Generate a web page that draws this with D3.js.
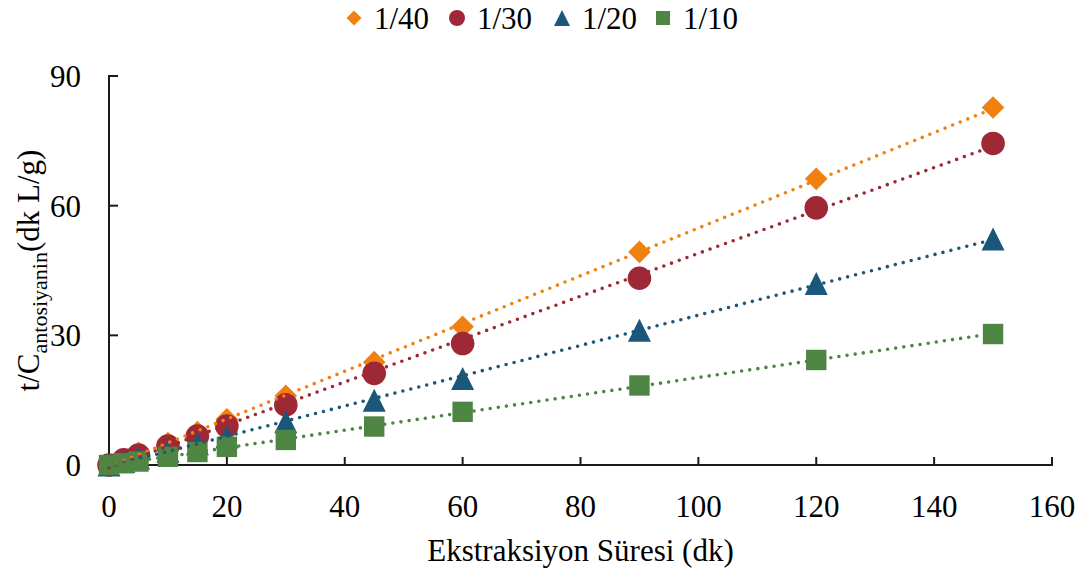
<!DOCTYPE html>
<html lang="en">
<head>
  <meta charset="UTF-8">
  <title>t/C antosiyanin</title>
  <script src="https://cdn.jsdelivr.net/npm/d3@7"></script>
  <style>
    body { margin: 0; background: #fff; }
    text { font-family: "Liberation Serif", "Times New Roman", serif; fill: #000; }
  </style>
</head>
<body>
  <svg id="chart"></svg>
  <script>
    const times = [0, 2.5, 5, 10, 15, 20, 30, 45, 60, 90, 120, 150];
    const ratio40 = [0, 1.4, 2.8, 5.1, 7.6, 10.6, 16.0, 23.8, 32.0, 49.3, 66.2, 82.7];
    const ratio30 = [0, 1.2, 2.3, 4.4, 6.7, 9.0, 13.9, 21.2, 28.1, 43.2, 59.5, 74.4];
    const ratio20 = [0, 0.8, 1.6, 3.2, 4.9, 6.5, 10.0, 15.0, 20.0, 31.2, 42.0, 52.3];
    const ratio10 = [0, 0.4, 0.8, 1.9, 3.0, 4.2, 5.8, 8.9, 12.3, 18.4, 24.3, 30.3];
    const seriesNames = ["1/40", "1/30", "1/20", "1/10"];
    const xTicks = [0, 20, 40, 60, 80, 100, 120, 140, 160];
    const yTicks = [0, 30, 60, 90];

    const width = 1083, height = 572;
    const margin = { left: 109, right: 31, top: 76, bottom: 107 };

    const series = [
      { name: seriesNames[0], values: ratio40, color: "#f08110", shape: "diamond" },
      { name: seriesNames[1], values: ratio30, color: "#9f2836", shape: "circle" },
      { name: seriesNames[2], values: ratio20, color: "#1b577b", shape: "triangle" },
      { name: seriesNames[3], values: ratio10, color: "#4e8542", shape: "square" }
    ];

    const svg = d3.select("#chart").attr("width", width).attr("height", height);

    const x = d3.scaleLinear().domain([0, 160]).range([margin.left, width - margin.right]);
    const y = d3.scaleLinear().domain([0, 90]).range([height - margin.bottom, margin.top]);

    // marker path centred on 0,0
    function shapePath(shape, s) {
      if (shape === "diamond") return `M0,${-s}L${s},0L0,${s}L${-s},0Z`;
      if (shape === "circle") return `M${s},0A${s},${s} 0 1,1 ${-s},0A${s},${s} 0 1,1 ${s},0Z`;
      if (shape === "triangle") return `M0,${-s}L${s},${s}L${-s},${s}Z`;
      return `M${-s},${-s}H${s}V${s}H${-s}Z`;
    }
    const markerSize = { diamond: 11.3, circle: 11.8, triangle: 11.5, square: 10.2 };
    const legendSize = { diamond: 7.5, circle: 8, triangle: 8, square: 7 };

    // axes
    const axisColor = "#1a1a1a";
    svg.append("line")
      .attr("x1", x(0)).attr("x2", x(0))
      .attr("y1", y(90) - 1).attr("y2", y(0) + 1)
      .attr("stroke", axisColor).attr("stroke-width", 2);
    svg.append("line")
      .attr("x1", x(0) - 1).attr("x2", x(160) + 1)
      .attr("y1", y(0)).attr("y2", y(0))
      .attr("stroke", axisColor).attr("stroke-width", 2);

    svg.selectAll(".ytick").data(yTicks.slice(1)).enter().append("line")
      .attr("x1", x(0)).attr("x2", x(0) + 9)
      .attr("y1", d => y(d)).attr("y2", d => y(d))
      .attr("stroke", axisColor).attr("stroke-width", 2);
    svg.selectAll(".xtick").data(xTicks.slice(1)).enter().append("line")
      .attr("x1", d => x(d)).attr("x2", d => x(d))
      .attr("y1", y(0)).attr("y2", y(0) - 8)
      .attr("stroke", axisColor).attr("stroke-width", 2);

    svg.selectAll(".ylab").data(yTicks).enter().append("text")
      .attr("x", x(0) - 28).attr("y", d => y(d) + 11)
      .attr("text-anchor", "end").attr("font-size", 31)
      .text(d => d);
    svg.selectAll(".xlab").data(xTicks).enter().append("text")
      .attr("x", d => x(d)).attr("y", y(0) + 52)
      .attr("text-anchor", "middle").attr("font-size", 31)
      .text(d => d);

    svg.append("text")
      .attr("x", (x(0) + x(160)) / 2).attr("y", 561)
      .attr("text-anchor", "middle").attr("font-size", 31)
      .text("Ekstraksiyon Süresi (dk)");

    const yTitle = svg.append("text")
      .attr("transform", `translate(39,${(y(0) + y(90)) / 2}) rotate(-90)`)
      .attr("text-anchor", "middle").attr("font-size", 31);
    yTitle.append("tspan").text("t/C");
    yTitle.append("tspan").attr("font-size", 22).attr("dy", 8).text("antosiyanin");
    yTitle.append("tspan").attr("dy", -8).text("(dk L/g)");

    // markers
    series.forEach(s => {
      svg.append("g").selectAll("path").data(times.map((t, i) => [t, s.values[i]]))
        .enter().append("path")
        .attr("transform", d => `translate(${x(d[0])},${y(d[1])})`)
        .attr("d", shapePath(s.shape, markerSize[s.shape]))
        .attr("fill", s.color);
    });

    // linear trendlines (least squares), dotted
    series.forEach(s => {
      const pts = times.map((t, i) => [t, s.values[i]]);
      const mx = d3.mean(pts, p => p[0]), my = d3.mean(pts, p => p[1]);
      const slope = d3.sum(pts, p => (p[0] - mx) * (p[1] - my)) / d3.sum(pts, p => (p[0] - mx) ** 2);
      const icpt = my - slope * mx;
      const x0 = d3.min(times), x1 = d3.max(times);
      svg.append("line")
        .attr("x1", x(x0)).attr("y1", y(icpt + slope * x0))
        .attr("x2", x(x1)).attr("y2", y(icpt + slope * x1))
        .attr("stroke", s.color).attr("stroke-width", 3.6)
        .attr("stroke-linecap", "round").attr("stroke-dasharray", "0 8.2");
    });

    // legend
    const legendX = [354, 457, 562, 663];
    const legend = svg.append("g");
    series.forEach((s, i) => {
      legend.append("path")
        .attr("transform", `translate(${legendX[i]},18)`)
        .attr("d", shapePath(s.shape, legendSize[s.shape]))
        .attr("fill", s.color);
      legend.append("text")
        .attr("x", legendX[i] + 20).attr("y", 29)
        .attr("font-size", 31)
        .text(s.name);
    });
  </script>
</body>
</html>
